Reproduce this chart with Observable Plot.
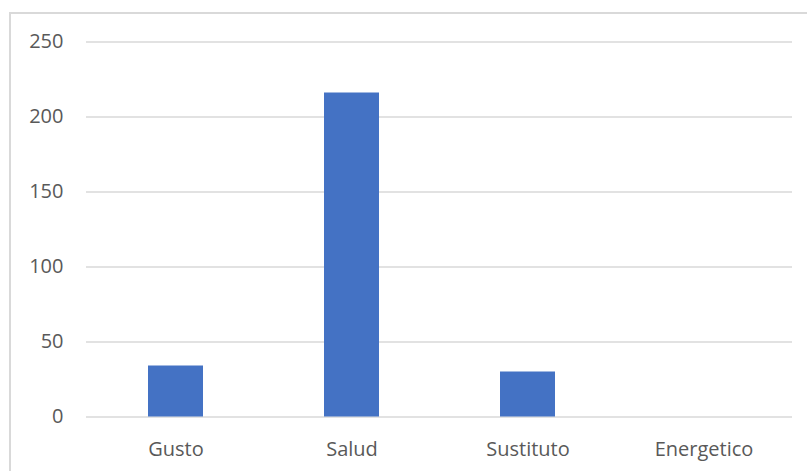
<!DOCTYPE html>
<html>
<head>
<meta charset="utf-8">
<script src="https://cdn.jsdelivr.net/npm/d3@7"></script>
<script src="https://cdn.jsdelivr.net/npm/@observablehq/plot@0.6"></script>
<style>
  html, body { margin: 0; padding: 0; background: #fff; }
  #wrap { position: relative; width: 807px; height: 471px; overflow: hidden; }
  #border { position: absolute; left: 9px; top: 12px; width: 820px; height: 480px;
            border-top: 2px solid #d9d9d9; border-left: 2px solid #d9d9d9; box-sizing: border-box; }
  #chart { position: absolute; left: 0; top: 0; }
</style>
</head>
<body>
<div id="wrap"><div id="border"></div><div id="chart"></div></div>
<script>
const categories = ["Gusto", "Salud", "Sustituto", "Energetico"];
const values = [34, 216, 30, 0];
const yTicks = [0, 50, 100, 150, 200, 250];

const data = categories.map((c, i) => ({category: c, value: values[i]}));

const font = "'Open Sans', sans-serif";
const chart = Plot.plot({
  width: 807,
  height: 471,
  marginLeft: 86,
  marginRight: 15,
  marginTop: 41.5,
  marginBottom: 54.5,
  style: {fontFamily: font, fontSize: "20px", color: "#595959", background: "transparent"},
  x: {domain: categories, paddingInner: 0.688, paddingOuter: 0.344, label: null},
  y: {domain: [0, 250], label: null},
  marks: [
    Plot.gridY(yTicks, {stroke: "#d9d9d9", strokeOpacity: 1, strokeWidth: 1.5}),
    Plot.barY(data, {x: "category", y: "value", fill: "#4472C4"}),
    Plot.axisY(yTicks, {tickSize: 0, tickPadding: 23, fill: "#595959", fontSize: 20, label: null}),
    Plot.axisX({tickSize: 0, tickPadding: 25, fill: "#595959", fontSize: 20, label: null})
  ]
});
document.getElementById("chart").appendChild(chart);
</script>
</body>
</html>
